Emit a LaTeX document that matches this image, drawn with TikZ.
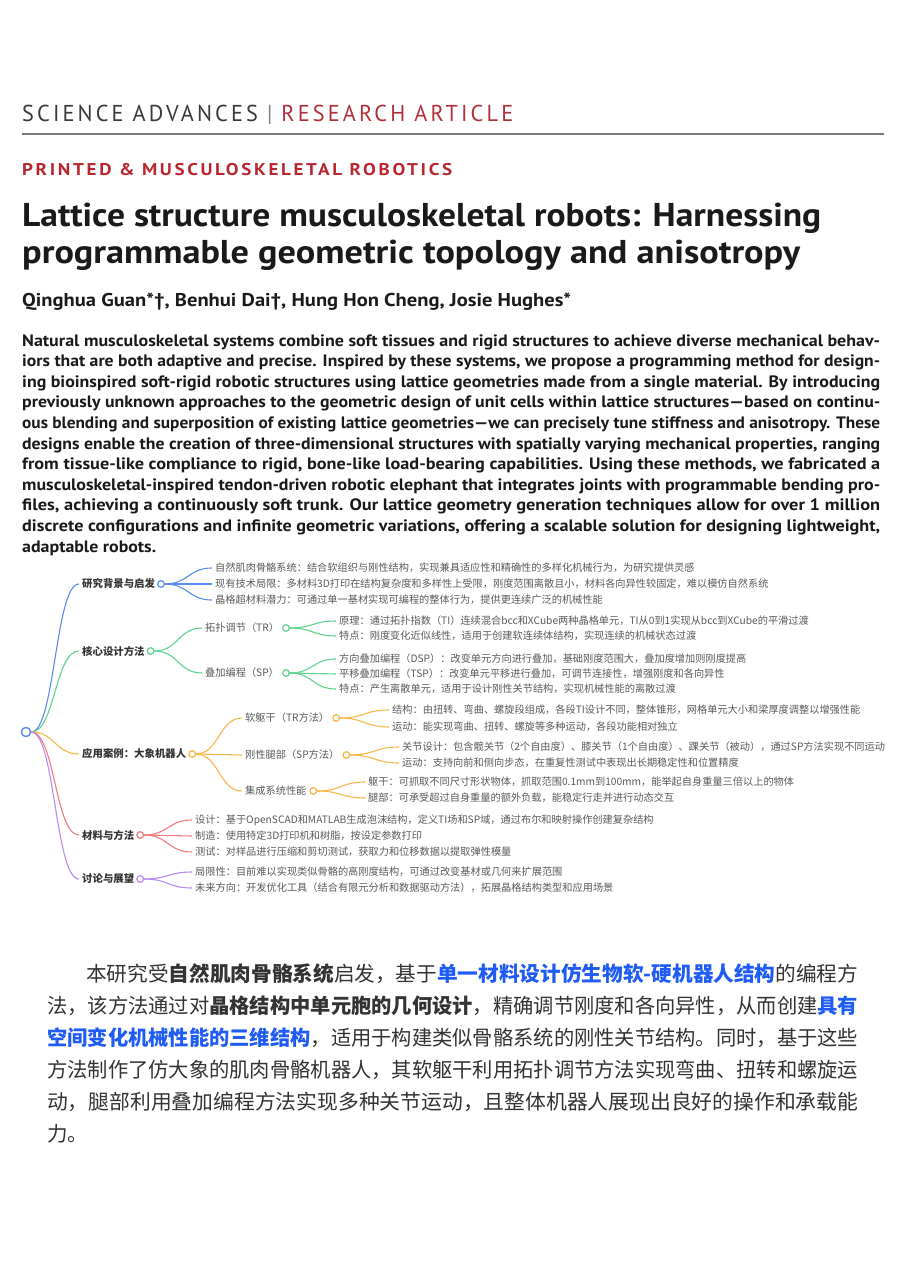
\documentclass[tikz,border=0pt]{standalone}
\usepackage{fontspec}
\usepackage{graphicx}
\setmainfont{PT Sans}
\newfontfamily\cjk{Noto Sans CJK SC}
\newfontfamily\hdrfont[LetterSpace=14]{PT Sans}
\usetikzlibrary{calc}
\definecolor{hdrgray}{HTML}{3A3A3A}
\definecolor{hdrred}{HTML}{B0303A}
\definecolor{secred}{HTML}{B8272F}
\definecolor{rulegray}{HTML}{7A7A7A}
\definecolor{titlecol}{HTML}{1A1A1A}
\definecolor{paracol}{HTML}{333333}
\definecolor{parablue}{HTML}{1F5CF5}
\definecolor{mblue}{HTML}{5B8DEF}
\definecolor{mgreen}{HTML}{5FD38D}
\definecolor{morange}{HTML}{F5B84A}
\definecolor{mred}{HTML}{F27B7B}
\definecolor{mpurple}{HTML}{B88CF0}
\definecolor{lonetext}{HTML}{333333}
\definecolor{leaftext}{HTML}{5A5A5A}
\tikzset{
  txtline/.style={anchor=base west, inner sep=0pt},
  mmone/.style={anchor=west, inner xsep=3pt, inner ysep=1pt, font=\cjk\fontsize{10.4}{12}\selectfont\bfseries, text=lonetext},
  mmtwo/.style={anchor=west, inner xsep=3pt, inner ysep=1pt, font=\cjk\fontsize{10.2}{12}\selectfont, text=leaftext},
  mmleaf/.style={anchor=west, inner xsep=3pt, inner ysep=1pt, font=\cjk\fontsize{10.2}{12}\selectfont, text=leaftext},
  mmdot/.style={circle, draw=#1, fill=white, line width=1.1pt, minimum size=6.5pt, inner sep=0pt, anchor=west},
  mmln/.style={draw=#1, line width=1.1pt},
}
\newcommand\mmlink[3]{\path ($(#1)!0.5!(#2)$) coordinate (mmmid);
  \draw[mmln=#3] (#1) .. controls (#1 -| mmmid) and (#2 -| mmmid) .. (#2);}
\newcommand\absline[3]{\node[txtline] (#1) at (22,#2) {\resizebox{858pt}{\height}{\bfseries\fontsize{16.5}{18}\selectfont\color{titlecol}#3}};}
\newcommand\paraline[5]{\node[txtline] (#1) at (#2,#3) {\resizebox{#4}{\height}{\cjk\fontsize{20.5}{24}\selectfont\color{paracol}#5}};}
\newcommand\hb[1]{{\bfseries #1}}
\newcommand\hbb[1]{{\bfseries\color{parablue}#1}}
\begin{document}
\begin{tikzpicture}[x=1pt,y=-1pt]
\useasboundingbox (0,0) rectangle (900,1273);
\fill[white] (0,0) rectangle (900,1273);

% ---------- header ----------
\node[txtline] (journal) at (22,122) {\resizebox{491pt}{\height}{\hdrfont\fontsize{23}{23}\selectfont\color{hdrgray}SCIENCE ADVANCES \textcolor{gray}{|} \color{hdrred}RESEARCH ARTICLE}};
\draw[rulegray, line width=1.4pt] (22,134) -- (884,134);
\node[txtline] (section) at (22,176) {\resizebox{430pt}{\height}{\hdrfont\bfseries\fontsize{17}{17}\selectfont\color{secred}PRINTED \& MUSCULOSKELETAL ROBOTICS}};
\node[txtline] (title1) at (22,226) {\resizebox{799pt}{\height}{\bfseries\fontsize{33}{36}\selectfont\color{titlecol}Lattice structure musculoskeletal robots: Harnessing}};
\node[txtline] (title2) at (22,263) {\resizebox{778pt}{\height}{\bfseries\fontsize{33}{36}\selectfont\color{titlecol}programmable geometric topology and anisotropy}};
\node[txtline] (authors) at (22,306) {\resizebox{549pt}{\height}{\bfseries\fontsize{18.5}{20}\selectfont\color{titlecol}Qinghua Guan*†, Benhui Dai†, Hung Hon Cheng, Josie Hughes*}};

% ---------- abstract ----------
\absline{ab1}{346}{Natural musculoskeletal systems combine soft tissues and rigid structures to achieve diverse mechanical behav-}
\absline{ab2}{366.6}{iors that are both adaptive and precise. Inspired by these systems, we propose a programming method for design-}
\absline{ab3}{387.2}{ing bioinspired soft-rigid robotic structures using lattice geometries made from a single material. By introducing}
\absline{ab4}{407.8}{previously unknown approaches to the geometric design of unit cells within lattice structures---based on continu-}
\absline{ab5}{428.4}{ous blending and superposition of existing lattice geometries---we can precisely tune stiffness and anisotropy. These}
\absline{ab6}{449}{designs enable the creation of three-dimensional structures with spatially varying mechanical properties, ranging}
\absline{ab7}{469.6}{from tissue-like compliance to rigid, bone-like load-bearing capabilities. Using these methods, we fabricated a}
\absline{ab8}{490.2}{musculoskeletal-inspired tendon-driven robotic elephant that integrates joints with programmable bending pro-}
\absline{ab9}{510.8}{files, achieving a continuously soft trunk. Our lattice geometry generation techniques allow for over 1 million}
\absline{ab10}{531.4}{discrete configurations and infinite geometric variations, offering a scalable solution for designing lightweight,}
\node[txtline] (ab11) at (22,552) {\resizebox{134pt}{\height}{\bfseries\fontsize{16.5}{18}\selectfont\color{titlecol}adaptable robots.}};

% ---------- mind map nodes ----------
\node[mmone] (a) at (79,584) {研究背景与启发};
\node[mmone] (b) at (79,651) {核心设计方法};
\node[mmone] (c) at (79,754) {应用案例：大象机器人};
\node[mmone] (d) at (79,835) {材料与方法};
\node[mmone] (e) at (79,879) {讨论与展望};

\node[mmleaf] (a1) at (212,568) {自然肌肉骨骼系统：结合软组织与刚性结构，实现兼具适应性和精确性的多样化机械行为，为研究提供灵感};
\node[mmleaf] (a2) at (212,584) {现有技术局限：多材料3D打印在结构复杂度和多样性上受限，刚度范围离散且小，材料各向异性较固定，难以模仿自然系统};
\node[mmleaf] (a3) at (212,600) {晶格超材料潜力：可通过单一基材实现可编程的整体行为，提供更连续广泛的机械性能};

\node[mmtwo] (b1) at (202,628) {拓扑调节（TR）};
\node[mmtwo] (b2) at (202,673) {叠加编程（SP）};
\node[mmleaf] (b11) at (336,621) {原理：通过拓扑指数（TI）连续混合bcc和XCube两种晶格单元，TI从0到1实现从bcc到XCube的平滑过渡};
\node[mmleaf] (b12) at (336,636) {特点：刚度变化近似线性，适用于创建软连续体结构，实现连续的机械状态过渡};
\node[mmleaf] (b21) at (336,659) {方向叠加编程（DSP）：改变单元方向进行叠加，基础刚度范围大，叠加度增加则刚度提高};
\node[mmleaf] (b22) at (336,674) {平移叠加编程（TSP）：改变单元平移进行叠加，可调节连接性，增强刚度和各向异性};
\node[mmleaf] (b23) at (336,689) {特点：产生离散单元，适用于设计刚性关节结构，实现机械性能的离散过渡};

\node[mmtwo] (c1) at (242,718) {软躯干（TR方法）};
\node[mmtwo] (c2) at (242,755) {刚性腿部（SP方法）};
\node[mmtwo] (c3) at (242,791) {集成系统性能};
\node[mmleaf] (c11) at (389,710) {结构：由扭转、弯曲、螺旋段组成，各段TI设计不同，整体锥形，网格单元大小和梁厚度调整以增强性能};
\node[mmleaf] (c12) at (389,727) {运动：能实现弯曲、扭转、螺旋等多种运动，各段功能相对独立};
\node[mmleaf] (c21) at (399,747) {关节设计：包含髋关节（2个自由度）、膝关节（1个自由度）、踝关节（被动），通过SP方法实现不同运动};
\node[mmleaf] (c22) at (399,763) {运动：支持向前和侧向步态，在重复性测试中表现出长期稳定性和位置精度};
\node[mmleaf] (c31) at (365,782) {躯干：可抓取不同尺寸形状物体，抓取范围0.1mm到100mm，能举起自身重量三倍以上的物体};
\node[mmleaf] (c32) at (365,798) {腿部：可承受超过自身重量的额外负载，能稳定行走并进行动态交互};

\node[mmleaf] (d1) at (192,820) {设计：基于OpenSCAD和MATLAB生成泡沫结构，定义TI场和SP域，通过布尔和映射操作创建复杂结构};
\node[mmleaf] (d2) at (192,836) {制造：使用特定3D打印机和树脂，按设定参数打印};
\node[mmleaf] (d3) at (192,852) {测试：对样品进行压缩和剪切测试，获取力和位移数据以提取弹性模量};

\node[mmleaf] (e1) at (192,872) {局限性：目前难以实现类似骨骼的高刚度结构，可通过改变基材或几何来扩展范围};
\node[mmleaf] (e2) at (192,888) {未来方向：开发优化工具（结合有限元分析和数据驱动方法），拓展晶格结构类型和应用场景};

% ---------- mind map links ----------
\coordinate (rootc) at (26,732);
\node[circle, draw=mblue, line width=1.3pt, minimum size=9pt, inner sep=0pt] (root) at (rootc) {};
\mmlink{root.east}{a.west}{mblue}
\mmlink{root.east}{b.west}{mgreen}
\mmlink{root.east}{c.west}{morange}
\mmlink{root.east}{d.west}{mred}
\mmlink{root.east}{e.west}{mpurple}

\node[mmdot=mblue] (ad) at ([xshift=-1pt]a.east) {};
\node[mmdot=mgreen] (bd) at ([xshift=-1pt]b.east) {};
\node[mmdot=morange] (cd) at ([xshift=-1pt]c.east) {};
\node[mmdot=mred] (dd) at ([xshift=-1pt]d.east) {};
\node[mmdot=mpurple] (ed) at ([xshift=-1pt]e.east) {};
\node[mmdot=mgreen] (b1d) at (b1.east) {};
\node[mmdot=mgreen] (b2d) at (b2.east) {};
\node[mmdot=morange] (c1d) at (c1.east) {};
\node[mmdot=morange] (c2d) at (c2.east) {};
\node[mmdot=morange] (c3d) at (c3.east) {};

\mmlink{ad.east}{a1.west}{mblue}
\mmlink{ad.east}{a2.west}{mblue}
\mmlink{ad.east}{a3.west}{mblue}
\mmlink{bd.east}{b1.west}{mgreen}
\mmlink{bd.east}{b2.west}{mgreen}
\mmlink{b1d.east}{b11.west}{mgreen}
\mmlink{b1d.east}{b12.west}{mgreen}
\mmlink{b2d.east}{b21.west}{mgreen}
\mmlink{b2d.east}{b22.west}{mgreen}
\mmlink{b2d.east}{b23.west}{mgreen}
\mmlink{cd.east}{c1.west}{morange}
\mmlink{cd.east}{c2.west}{morange}
\mmlink{cd.east}{c3.west}{morange}
\mmlink{c1d.east}{c11.west}{morange}
\mmlink{c1d.east}{c12.west}{morange}
\mmlink{c2d.east}{c21.west}{morange}
\mmlink{c2d.east}{c22.west}{morange}
\mmlink{c3d.east}{c31.west}{morange}
\mmlink{c3d.east}{c32.west}{morange}
\mmlink{dd.east}{d1.west}{mred}
\mmlink{dd.east}{d2.west}{mred}
\mmlink{dd.east}{d3.west}{mred}
\mmlink{ed.east}{e1.west}{mpurple}
\mmlink{ed.east}{e2.west}{mpurple}

% redraw dots on top of links
\node[mmdot=mblue] at ([xshift=-1pt]a.east) {};
\node[mmdot=mgreen] at ([xshift=-1pt]b.east) {};
\node[mmdot=morange] at ([xshift=-1pt]c.east) {};
\node[mmdot=mred] at ([xshift=-1pt]d.east) {};
\node[mmdot=mpurple] at ([xshift=-1pt]e.east) {};
\node[mmdot=mgreen] at (b1.east) {};
\node[mmdot=mgreen] at (b2.east) {};
\node[mmdot=morange] at (c1.east) {};
\node[mmdot=morange] at (c2.east) {};
\node[mmdot=morange] at (c3.east) {};
\node[circle, draw=mblue, fill=white, line width=1.3pt, minimum size=9pt, inner sep=0pt] at (rootc) {};

% ---------- Chinese paragraph ----------
\paraline{p1}{86}{981}{772pt}{本研究受\hb{自然肌肉骨骼系统}启发，基于\hbb{单一材料设计仿生物软-硬机器人结构}的编程方}
\paraline{p2}{47}{1013}{811pt}{法，该方法通过对\hb{晶格结构中单元胞的几何设计}，精确调节刚度和各向异性，从而创建\hbb{具有}}
\paraline{p3}{47}{1045}{811pt}{\hbb{空间变化机械性能的三维结构}，适用于构建类似骨骼系统的刚性关节结构。同时，基于这些}
\paraline{p4}{47}{1077}{811pt}{方法制作了仿大象的肌肉骨骼机器人，其软躯干利用拓扑调节方法实现弯曲、扭转和螺旋运}
\paraline{p5}{47}{1109}{811pt}{动，腿部利用叠加编程方法实现多种关节运动，且整体机器人展现出良好的操作和承载能}
\node[txtline] (p6) at (47,1141) {\cjk\fontsize{20.5}{24}\selectfont\color{paracol}力。};
\end{tikzpicture}
\end{document}
